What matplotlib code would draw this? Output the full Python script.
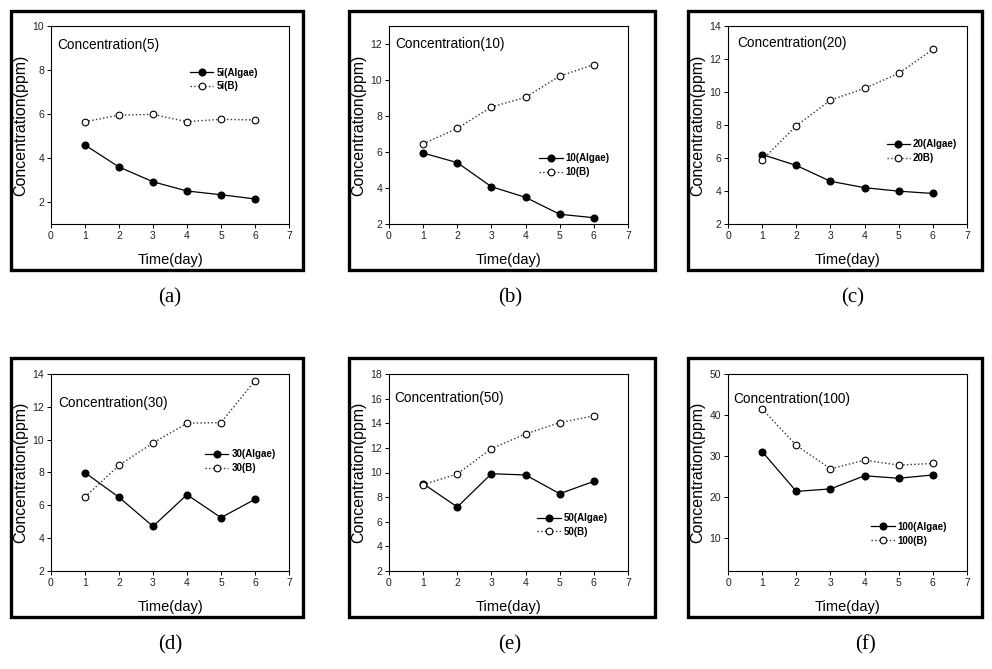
import matplotlib
matplotlib.use("Agg")
import matplotlib.pyplot as plt
from matplotlib.patches import Rectangle

plt.rcParams['font.family'] = ['Liberation Sans', 'DejaVu Sans']

days = [1, 2, 3, 4, 5, 6]

titles = ["Concentration(5)", "Concentration(10)", "Concentration(20)",
          "Concentration(30)", "Concentration(50)", "Concentration(100)"]
captions = ["(a)", "(b)", "(c)", "(d)", "(e)", "(f)"]
labels_algae = ["5i(Algae)", "10(Algae)", "20(Algae)", "30(Algae)", "50(Algae)", "100(Algae)"]
labels_b = ["5i(B)", "10(B)", "20B)", "30(B)", "50(B)", "100(B)"]

algae_5 = [4.59, 3.59, 2.92, 2.50, 2.33, 2.14]
b_5 = [5.65, 5.95, 5.98, 5.65, 5.76, 5.73]
algae_10 = [5.94, 5.41, 4.07, 3.48, 2.54, 2.35]
b_10 = [6.46, 7.31, 8.50, 9.04, 10.22, 10.85]
algae_20 = [6.21, 5.55, 4.59, 4.20, 3.99, 3.85]
b_20 = [5.88, 7.95, 9.51, 10.22, 11.13, 12.58]
algae_30 = [7.99, 6.49, 4.72, 6.65, 5.25, 6.37]
b_30 = [6.51, 8.44, 9.80, 11.00, 11.04, 13.60]
algae_50 = [9.09, 7.20, 9.90, 9.80, 8.28, 9.28]
b_50 = [9.01, 9.88, 11.94, 13.13, 14.05, 14.60]
algae_100 = [31.1, 21.4, 22.0, 25.2, 24.6, 25.4]
b_100 = [41.5, 32.6, 26.9, 29.0, 27.8, 28.2]

algae_all = [algae_5, algae_10, algae_20, algae_30, algae_50, algae_100]
b_all = [b_5, b_10, b_20, b_30, b_50, b_100]

ylims = [(1, 10), (2, 13), (2, 14), (2, 14), (2, 18), (2, 50)]
yticks = [[2, 4, 6, 8, 10], [2, 4, 6, 8, 10, 12], [2, 4, 6, 8, 10, 12, 14],
          [2, 4, 6, 8, 10, 12, 14], [2, 4, 6, 8, 10, 12, 14, 16, 18],
          [10, 20, 30, 40, 50]]
xticks = [0, 1, 2, 3, 4, 5, 6, 7]

W, H = 992, 669
fig = plt.figure(figsize=(W / 100, H / 100), dpi=100)

# pixel layout
ax_x = [(51, 289), (389, 628), (728, 967)]
ax_y = [(26, 224), (374, 571)]
frame_x = [(11, 303), (349, 655), (688, 982)]
frame_y = [(11, 270), (358, 617)]
cap_pos = [(170, 298), (510, 298), (853, 298), (170, 645), (510, 645), (865, 645)]
title_pos = [(0.027, 0.904), (0.027, 0.908), (0.039, 0.916),
             (0.031, 0.853), (0.024, 0.88), (0.024, 0.875)]
leg_pos = [(0.584, 0.73), (0.629, 0.298), (0.664, 0.368),
           (0.647, 0.558), (0.621, 0.234), (0.60, 0.189)]

for i in range(6):
    r, c = divmod(i, 3)
    x0, x1 = ax_x[c]
    y0, y1 = ax_y[r]
    ax = fig.add_axes([x0 / W, 1 - y1 / H, (x1 - x0) / W, (y1 - y0) / H])
    ax.plot(days, algae_all[i], color='black', lw=0.9, marker='o', ms=4.8,
            mfc='black', mec='black', label=labels_algae[i], zorder=3)
    ax.plot(days, b_all[i], color='#333333', lw=1.0, ls=':', marker='o', ms=4.8,
            mfc='white', mec='black', mew=0.8, label=labels_b[i], zorder=3)
    ax.set_xlim(0, 7)
    ax.set_ylim(*ylims[i])
    ax.set_xticks(xticks)
    ax.set_yticks(yticks[i])
    ax.tick_params(direction='out', length=3, width=0.7, labelsize=7.5,
                   labelcolor='#222222', pad=2)
    for s in ax.spines.values():
        s.set_linewidth(0.8)
    ax.set_ylabel("Concentration(ppm)", fontsize=11.5)
    ax.yaxis.set_label_coords(-0.095, 0.5)
    ax.set_xlabel("Time(day)", fontsize=10.5)
    ax.xaxis.set_label_coords(0.5, -0.148)
    ax.text(title_pos[i][0], title_pos[i][1], titles[i], transform=ax.transAxes,
            fontsize=9.8, va='center', ha='left')
    ax.legend(loc='center left', bbox_to_anchor=leg_pos[i], frameon=False,
              prop={'size': 7, 'weight': 'bold'}, borderpad=0, borderaxespad=0,
              handlelength=2.4, handletextpad=0.3, labelspacing=0.4, numpoints=1)

    fx0, fx1 = frame_x[c]
    fy0, fy1 = frame_y[r]
    fig.patches.append(Rectangle((fx0 / W, 1 - fy1 / H), (fx1 - fx0) / W, (fy1 - fy0) / H,
                                 transform=fig.transFigure, fill=False,
                                 edgecolor='black', lw=2.4))
    cx, cy = cap_pos[i]
    fig.text(cx / W, 1 - cy / H, captions[i], ha='center', va='center',
             fontsize=15, family=['Liberation Serif', 'DejaVu Serif'])

fig.savefig("out.png", dpi=100)
